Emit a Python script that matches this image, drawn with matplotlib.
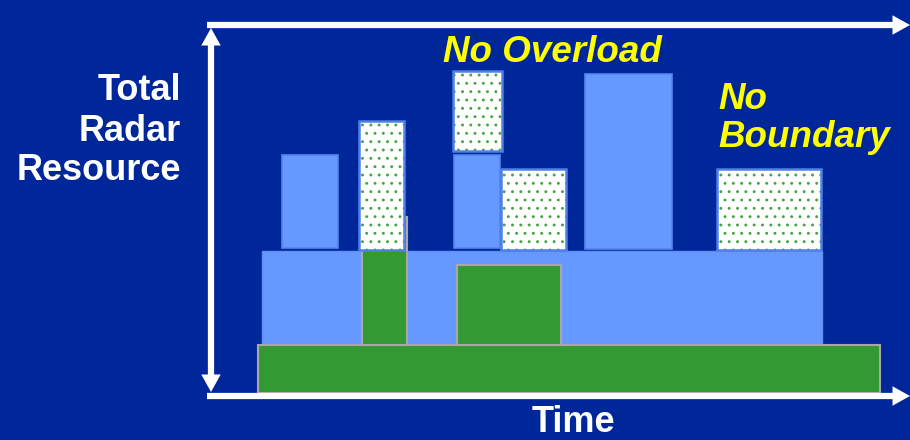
import matplotlib.pyplot as plt
from matplotlib.patches import Rectangle

# Radar resource usage over time; time measured from the axis origin,
# resource measured up from the time axis.
base_start = [48]
base_end = [670]
base_bottom = [2]
base_top = [50]

band_start = [52]
band_end = [612]
band_bottom = [50]
band_top = [144]

green_start = [152, 247]
green_end = [197, 351]
green_bottom = [50, 50]
green_top = [178, 130]

task_start = [72, 244, 375]
task_end = [128, 290, 462]
task_bottom = [147, 147, 146]
task_top = [240, 240, 321]

dot_start = [149, 243, 291, 507]
dot_end = [194, 292, 356, 611]
dot_bottom = [145, 244, 145, 145]
dot_top = [274, 324, 226, 226]

y_label_lines = ["Total", "Radar", "Resource"]
x_label = "Time"
note_overload = "No Overload"
note_boundary = ["No", "Boundary"]

BG = "#00279A"
LIGHT = "#6699FF"
GREEN = "#339933"
WHITE = "white"
YELLOW = "#FFFF00"

plt.rcParams["font.family"] = ["Liberation Sans", "DejaVu Sans"]

fig = plt.figure(figsize=(9.1, 4.4), dpi=100, facecolor=BG)
ax = fig.add_axes([0, 0, 1, 1])
ax.set_facecolor(BG)
ax.set_xlim(-210, 700)
ax.set_ylim(-45, 395)
ax.axis("off")


def boxes(starts, ends, bottoms, tops, **kw):
    for s, e, b, t in zip(starts, ends, bottoms, tops):
        ax.add_patch(Rectangle((s, b), e - s, t - b, **kw))


boxes(base_start, base_end, base_bottom, base_top,
      facecolor=GREEN, edgecolor="#A8A8A8", lw=1.5, zorder=2)
boxes(band_start, band_end, band_bottom, band_top,
      facecolor=LIGHT, edgecolor="#5F8FF5", lw=1, zorder=1)
boxes(green_start, green_end, green_bottom, green_top,
      facecolor=GREEN, edgecolor="#A8A8A8", lw=1.5, zorder=3)
boxes(task_start, task_end, task_bottom, task_top,
      facecolor=LIGHT, edgecolor="#5584EC", lw=1.2, zorder=3)

# dotted blocks: white fill, sparse green dots, blue outline
boxes(dot_start, dot_end, dot_bottom, dot_top,
      facecolor=WHITE, edgecolor="none", lw=0, zorder=4)
plt.rcParams["hatch.linewidth"] = 0.9
boxes(dot_start, dot_end, dot_bottom, dot_top,
      facecolor="none", edgecolor="#44A544", lw=0, hatch="..", zorder=5)
boxes(dot_start, dot_end, dot_bottom, dot_top,
      facecolor="none", edgecolor="#4F80E8", lw=1.8, zorder=6)

# axes drawn as white arrows
shaft = dict(color=WHITE, lw=4.5, solid_capstyle="butt", zorder=7)
ax.plot([-3, 690], [-1, -1], **shaft)
ax.plot([-3, 690], [370, 370], **shaft)
ax.plot([1, 1], [10, 355], **shaft)

head = dict(arrowstyle="-|>,head_length=0.45,head_width=0.25",
            color=WHITE, lw=0, mutation_scale=28, shrinkA=0, shrinkB=0)
ax.annotate("", xy=(700, -1), xytext=(680, -1), arrowprops=head, zorder=8)
ax.annotate("", xy=(700, 370), xytext=(680, 370), arrowprops=head, zorder=8)
ax.annotate("", xy=(1, 367), xytext=(1, 345), arrowprops=head, zorder=8)
ax.annotate("", xy=(1, 3), xytext=(1, 25), arrowprops=head, zorder=8)

label_font = dict(color=WHITE, fontsize=26, fontweight="bold")
for line, r in zip(y_label_lines, [295, 254, 215]):
    ax.text(-29, r, line, ha="right", va="baseline", **label_font)
ax.text(363, -37, x_label, ha="center", va="baseline", **label_font)

note_font = dict(color=YELLOW, fontsize=26.5, fontweight="bold", style="italic")
ax.text(233, 333, note_overload, ha="left", va="baseline", **note_font)
for line, r in zip(note_boundary, [286, 248]):
    ax.text(508, r, line, ha="left", va="baseline", **note_font)

fig.savefig("out.png", dpi=100, facecolor=BG)
